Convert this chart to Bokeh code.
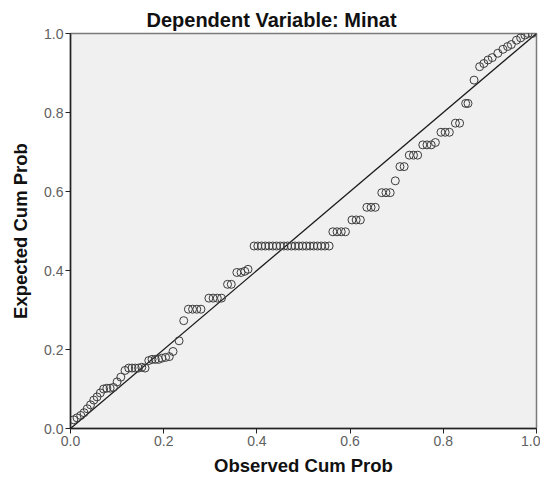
from bokeh.plotting import figure
from bokeh.models import Range1d, FixedTicker
from bokeh.embed import file_html
from bokeh.resources import INLINE

# Observed cumulative probability (x) and expected cumulative probability (y)
observed = [
    0.007, 0.014, 0.022, 0.029, 0.036, 0.043, 0.050, 0.057, 0.064, 0.071,
    0.078, 0.085, 0.092, 0.100, 0.108, 0.117, 0.125, 0.132, 0.139, 0.146,
    0.153, 0.160, 0.168, 0.175, 0.182, 0.189, 0.196, 0.204, 0.212, 0.220,
    0.233, 0.243, 0.253, 0.262, 0.271, 0.280, 0.297, 0.306, 0.315, 0.324,
    0.337, 0.345, 0.357, 0.366, 0.374, 0.381,
    0.394, 0.402, 0.410, 0.418, 0.426, 0.434, 0.442, 0.450, 0.458, 0.466,
    0.474, 0.482, 0.490, 0.498, 0.506, 0.514, 0.522, 0.530, 0.538, 0.546,
    0.555,
    0.563, 0.572, 0.581, 0.590,
    0.604, 0.613, 0.622,
    0.636, 0.645, 0.654,
    0.668, 0.677, 0.686,
    0.697,
    0.707, 0.716,
    0.727, 0.736, 0.745,
    0.756, 0.765, 0.774, 0.783,
    0.795, 0.804, 0.813,
    0.826, 0.835,
    0.848, 0.853,
    0.866,
    0.878, 0.887, 0.896, 0.905, 0.917, 0.928, 0.938, 0.946, 0.957, 0.966,
    0.975, 0.982, 0.991,
]
expected = [
    0.022, 0.027, 0.033, 0.040, 0.050, 0.060, 0.072, 0.080, 0.090, 0.100,
    0.102, 0.102, 0.104, 0.118, 0.130, 0.147, 0.153, 0.153, 0.153, 0.153,
    0.155, 0.153, 0.172, 0.175, 0.175, 0.175, 0.178, 0.180, 0.182, 0.195,
    0.222, 0.273, 0.302, 0.302, 0.302, 0.302, 0.330, 0.330, 0.330, 0.330,
    0.365, 0.365, 0.395, 0.395, 0.398, 0.403,
    0.462, 0.462, 0.462, 0.462, 0.462, 0.462, 0.462, 0.462, 0.462, 0.462,
    0.462, 0.462, 0.462, 0.462, 0.462, 0.462, 0.462, 0.462, 0.462, 0.462,
    0.462,
    0.498, 0.498, 0.498, 0.498,
    0.528, 0.528, 0.528,
    0.560, 0.560, 0.560,
    0.597, 0.597, 0.597,
    0.627,
    0.663, 0.663,
    0.692, 0.692, 0.692,
    0.718, 0.718, 0.718, 0.724,
    0.750, 0.750, 0.750,
    0.773, 0.773,
    0.823, 0.823,
    0.882,
    0.916, 0.924, 0.933, 0.939, 0.950, 0.960, 0.967, 0.972, 0.983, 0.989,
    0.996, 1.000, 1.000,
]
diag_x = [0.0, 1.0]
diag_y = [0.0, 1.0]
ticks = [0.0, 0.2, 0.4, 0.6, 0.8, 1.0]
tick_labels = {0.0: "0.0", 0.2: "0.2", 0.4: "0.4", 0.6: "0.6", 0.8: "0.8", 1.0: "1.0"}

FONT = "Liberation Sans"

p = figure(width=540, height=478,
           x_range=Range1d(0, 1), y_range=Range1d(0, 1),
           output_backend="svg", toolbar_location=None,
           min_border_left=70, min_border_right=4,
           min_border_top=33, min_border_bottom=48,
           background_fill_color="#f0f0f0", border_fill_color="white")

p.title.text = "Dependent Variable: Minat"
p.title.align = "left"
p.title.offset = 76
p.title.text_font = FONT
p.title.text_font_size = "20px"
p.title.text_font_style = "bold"
p.title.text_color = "#111111"
p.title.standoff = 6

p.outline_line_color = "#7a7a7a"
p.outline_line_width = 1.5
p.xgrid.visible = False
p.ygrid.visible = False

for ax in (p.xaxis[0], p.yaxis[0]):
    ax.ticker = FixedTicker(ticks=ticks)
    ax.major_label_overrides = tick_labels
    ax.minor_tick_line_color = None
    ax.major_tick_out = 5
    ax.major_tick_in = 0
    ax.axis_line_color = "#222222"
    ax.axis_line_width = 1.5
    ax.major_tick_line_color = "#222222"
    ax.major_label_text_font = FONT
    ax.major_label_text_font_size = "14px"
    ax.major_label_text_color = "#606060"
    ax.axis_label_text_font = FONT
    ax.axis_label_text_font_size = "18.5px"
    ax.axis_label_text_font_style = "bold"
    ax.axis_label_text_color = "#111111"

p.xaxis.axis_label = "Observed Cum Prob"
p.yaxis.axis_label = "Expected Cum Prob"
p.xaxis.major_label_standoff = 2
p.xaxis.axis_label_standoff = 6
p.yaxis.major_label_standoff = 2
p.yaxis.axis_label_standoff = 10

p.line(diag_x, diag_y, line_color="#1a1a1a", line_width=1.3)
p.scatter(observed, expected, marker="circle", size=8,
          fill_color=None, line_color="#3c3c3c", line_width=1)

open("out.html", "w").write(file_html(p, INLINE))
